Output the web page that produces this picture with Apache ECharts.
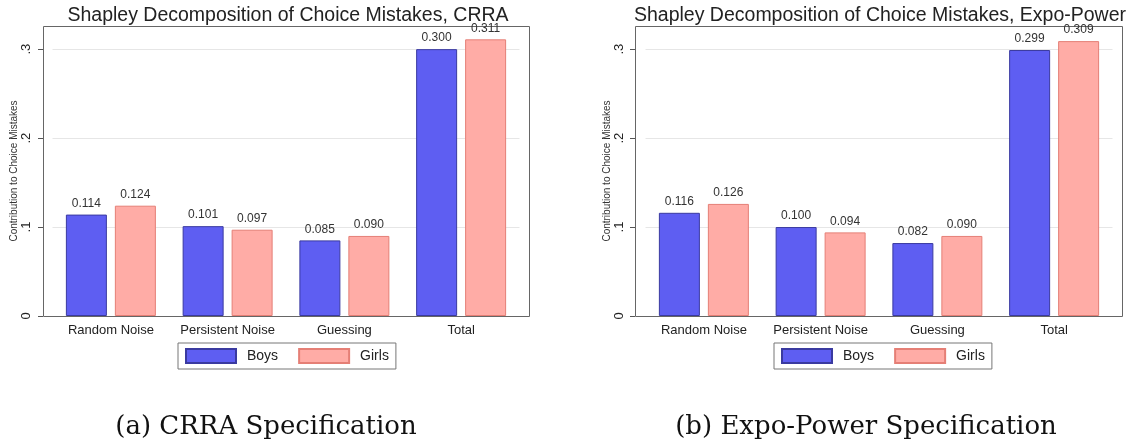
<!DOCTYPE html>
<html>
<head>
<meta charset="utf-8">
<script src="https://cdn.jsdelivr.net/npm/echarts@6/dist/echarts.min.js"></script>
<style>
  html, body { margin: 0; padding: 0; background: #ffffff; }
  #chart { width: 1130px; height: 440px; }
</style>
</head>
<body>
<div id="chart"></div>
<script>
// Shapley decomposition of choice mistakes by gender, two utility specifications
const categories = ['Random Noise', 'Persistent Noise', 'Guessing', 'Total'];
const crraBoys = [0.114, 0.101, 0.085, 0.300];
const crraGirls = [0.124, 0.097, 0.090, 0.311];
const expoBoys = [0.116, 0.100, 0.082, 0.299];
const expoGirls = [0.126, 0.094, 0.090, 0.309];
const yTicks = [0, 0.1, 0.2, 0.3];
const panelTitles = [
  'Shapley Decomposition of Choice Mistakes, CRRA',
  'Shapley Decomposition of Choice Mistakes, Expo-Power'
];
const captions = ['(a) CRRA Specification', '(b) Expo-Power Specification'];
const seriesNames = ['Boys', 'Girls'];

const sans = '"Liberation Sans", Arial, sans-serif';
const serif = '"DejaVu Serif", "Liberation Serif", serif';

const boysStyle = { color: '#5e5ef2', borderColor: '#3a3aa0', borderWidth: 1 };
const girlsStyle = { color: '#ffaca6', borderColor: '#e57f76', borderWidth: 1 };

// panel frames (plot region boxes) and the category bands inside them
const frames = [
  { x: 43, y: 26, w: 486, h: 290 },
  { x: 635, y: 26, w: 487, h: 290 }
];
const grids = [
  { left: 52.5, width: 467, top: 26, height: 290 },
  { left: 645.5, width: 467, top: 26, height: 290 }
];

function tickLabel(v) {
  if (v === 0) return '0';
  return String(+v.toFixed(1)).replace(/^0\./, '.');
}

function yAxisFor(i, offset, labelMargin, nameGap) {
  return {
    type: 'value', gridIndex: i, min: 0, max: 0.326, interval: 0.1,
    offset: offset,
    name: 'Contribution to Choice Mistakes',
    nameLocation: 'middle', nameGap: nameGap,
    nameTextStyle: { fontFamily: sans, fontSize: 10, color: '#333' },
    axisLine: { show: false },
    axisTick: { show: true, length: 5, lineStyle: { color: '#555' } },
    axisLabel: {
      rotate: 90, margin: labelMargin, fontFamily: sans, fontSize: 13, color: '#222',
      showMaxLabel: false,
      formatter: function (v) { return yTicks.some(t => Math.abs(t - v) < 1e-9) ? tickLabel(v) : ''; }
    },
    splitLine: { show: true, lineStyle: { color: '#e6e6e6', width: 1 } }
  };
}

function xAxisFor(i) {
  return {
    type: 'category', gridIndex: i, data: categories,
    axisLine: { show: true, lineStyle: { color: '#555', type: [4, 3], width: 1 } },
    axisTick: { show: false },
    axisLabel: { interval: 0, margin: 8, fontFamily: sans, fontSize: 13, color: '#222' }
  };
}

function barSeries(name, data, style, i) {
  return {
    type: 'bar', name: name, data: data,
    xAxisIndex: i, yAxisIndex: i,
    barWidth: 41, barGap: '19.5%',
    itemStyle: style,
    label: {
      show: true, position: 'top', distance: 5,
      fontFamily: sans, fontSize: 12, color: '#333',
      formatter: function (p) { return p.value.toFixed(3); }
    }
  };
}

function legendFor(left) {
  return {
    data: seriesNames,
    left: left, top: 343, orient: 'horizontal',
    itemWidth: 50, itemHeight: 14, itemGap: 20,
    padding: [5, 7, 5, 7],
    borderColor: '#777', borderWidth: 1,
    icon: 'rect',
    selectedMode: false,
    textStyle: { fontFamily: sans, fontSize: 14, color: '#222', padding: [0, 0, 0, 6] }
  };
}

const chart = echarts.init(document.getElementById('chart'), null, { renderer: 'canvas' });

chart.setOption({
  backgroundColor: '#ffffff',
  animation: false,
  title: [
    { text: panelTitles[0], left: 283, top: 1, textAlign: 'center',
      textStyle: { fontFamily: sans, fontSize: 19.5, fontWeight: 'normal', color: '#222' } },
    { text: panelTitles[1], left: 875, top: 1, textAlign: 'center',
      textStyle: { fontFamily: sans, fontSize: 19.5, fontWeight: 'normal', color: '#222' } }
  ],
  grid: grids,
  xAxis: [xAxisFor(0), xAxisFor(1)],
  yAxis: [yAxisFor(0, 9.5, 10, 24), yAxisFor(1, 10.5, 9, 21)],
  legend: [legendFor(178), legendFor(774)],
  series: [
    barSeries(seriesNames[0], crraBoys, boysStyle, 0),
    barSeries(seriesNames[1], crraGirls, girlsStyle, 0),
    barSeries(seriesNames[0], expoBoys, boysStyle, 1),
    barSeries(seriesNames[1], expoGirls, girlsStyle, 1)
  ],
  graphic: [
    ...frames.map(f => ({
      type: 'rect', z: 1, silent: true,
      shape: { x: f.x + 0.5, y: f.y + 0.5, width: f.w, height: f.h },
      style: { fill: null, stroke: '#666', lineWidth: 1 }
    })),
    { type: 'text', x: 266, y: 427, silent: true,
      style: { text: captions[0], fontFamily: serif, fontSize: 26, fill: '#111', align: 'center', verticalAlign: 'middle' } },
    { type: 'text', x: 866, y: 427, silent: true,
      style: { text: captions[1], fontFamily: serif, fontSize: 26, fill: '#111', align: 'center', verticalAlign: 'middle' } }
  ]
});
</script>
</body>
</html>
